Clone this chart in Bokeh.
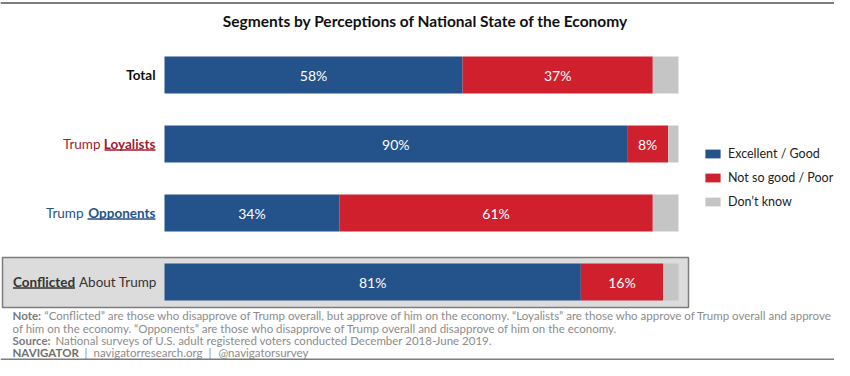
from bokeh.plotting import figure
from bokeh.models import ColumnDataSource, Range1d, Legend, LegendItem
from bokeh.core.properties import value
from bokeh.embed import file_html
from bokeh.resources import INLINE

# ---------------- data ----------------
segments = ["Total", "Trump Loyalists", "Trump Opponents", "Conflicted About Trump"]
good = [58, 90, 34, 81]
poor = [37, 8, 61, 16]
dont_know = [5, 2, 5, 3]
series_names = ["Excellent / Good", "Not so good / Poor", "Don\u2019t know"]
title_text = "Segments by Perceptions of National State of the Economy"
note_text = ("\u201cConflicted\u201d are those who disapprove of Trump overall, but approve of him on the economy. "
             "\u201cLoyalists\u201d are those who approve of Trump overall and approve")
note_text2 = ("of him on the economy. \u201cOpponents\u201d are those who disapprove of Trump overall "
              "and disapprove of him on the economy.")
source_text = "National surveys of U.S. adult registered voters conducted December 2018-June 2019."
footer_parts = ["|", "navigatorresearch.org", "|", "@navigatorsurvey"]

# ---------------- styles ----------------
BLUE = "#24528a"
RED = "#d0202e"
GRAY = "#c6c5c5"
DARKRED = "#9e1b32"
FONT = "Lato"
NOTE_GRAY = "#8c8c8c"

W, H = 834, 360
PX_PER_PCT = 5.14
X0 = 164              # px of 0%
ROW_PX = 69
Y0 = 74.5             # px of first row centre

def fx(px):
    return (px - X0) / PX_PER_PCT

def fy(py):
    return (py - Y0) / ROW_PX

p = figure(width=W, height=H, output_backend="svg", toolbar_location=None,
           x_range=Range1d(fx(0), fx(W)),
           y_range=Range1d(fy(H), fy(0)),
           x_axis_type=None, y_axis_type=None, min_border=0,
           outline_line_color=None, background_fill_color="white")
p.xgrid.visible = False
p.ygrid.visible = False

rows = list(range(len(segments)))

# conflicted highlight box
p.quad(left=[fx(2)], right=[fx(688)], top=[rows[3] - 24.5 / ROW_PX],
       bottom=[rows[3] + 25.5 / ROW_PX],
       fill_color="#dcdcdc", line_color="#7c7c7c", line_width=1.5)

src = ColumnDataSource(dict(row=rows, good=good, poor=poor, dk=dont_know))
rs = p.hbar_stack(["good", "poor", "dk"], y="row", height=37 / ROW_PX, source=src,
                  color=[BLUE, RED, GRAY], line_color=None)

# percentage labels
lx, ly, lt = [], [], []
for i in rows:
    lx += [good[i] / 2, good[i] + poor[i] / 2]
    ly += [i, i]
    lt += [f"{good[i]}%", f"{poor[i]}%"]
p.text(x=lx, y=ly, text=lt, text_color="white", text_font=value(FONT),
       text_font_size="14px", text_align="center", text_baseline="middle")

# row labels
LAB_X = fx(155)
FS = "13.5px"
p.text(x=[LAB_X], y=[rows[0]], text=["Total"], text_font=value(FONT), text_font_size=FS,
       text_font_style="bold", text_color="#111111", text_align="right", text_baseline="middle")

def two_part(row, bold, normal, color, bold_w, bold_first):
    ul_y = row + 6 / ROW_PX
    if not bold_first:
        p.text(x=[LAB_X], y=[row], text=[bold], text_font=value(FONT), text_font_size=FS,
               text_font_style="bold", text_color=color, text_align="right", text_baseline="middle")
        p.text(x=[LAB_X - (bold_w + 4) / PX_PER_PCT], y=[row], text=[normal], text_font=value(FONT),
               text_font_size=FS, text_color=color, text_align="right", text_baseline="middle")
        p.segment(x0=[LAB_X - bold_w / PX_PER_PCT], x1=[LAB_X], y0=[ul_y], y1=[ul_y],
                  line_color=color, line_width=1.5)
    else:
        start = fx(12.5)
        p.text(x=[start], y=[row], text=[bold], text_font=value(FONT), text_font_size=FS,
               text_font_style="bold", text_color=color, text_align="left", text_baseline="middle")
        p.text(x=[start + (bold_w + 4) / PX_PER_PCT], y=[row], text=[normal], text_font=value(FONT),
               text_font_size=FS, text_color=color, text_align="left", text_baseline="middle")
        p.segment(x0=[start], x1=[start + bold_w / PX_PER_PCT], y0=[ul_y], y1=[ul_y],
                  line_color=color, line_width=1.5)

two_part(rows[1], "Loyalists", "Trump", DARKRED, 51, False)
two_part(rows[2], "Opponents", "Trump", BLUE, 68, False)
two_part(rows[3], "Conflicted", "About Trump", "#333333", 62, True)

# title
p.text(x=[fx(425)], y=[fy(20)], text=[title_text], text_font=value(FONT), text_font_size="15.5px",
       text_font_style="bold", text_color="#111111", text_align="center", text_baseline="middle")

# notes
NOTE_FS = "11.5px"
def ntext(xpx, ypx, txt, bold=False, color=NOTE_GRAY):
    p.text(x=[fx(xpx)], y=[fy(ypx)], text=[txt], text_font=value(FONT), text_font_size=NOTE_FS,
           text_font_style="bold" if bold else "normal", text_color=color,
           text_align="left", text_baseline="middle")

ntext(12, 315, "Note:", bold=True, color="#7a7a7a")
ntext(44, 315, note_text)
ntext(12, 327.5, note_text2)
ntext(12, 339.5, "Source:", bold=True, color="#7a7a7a")
ntext(55, 339.5, source_text)
ntext(12, 351.5, "NAVIGATOR", bold=True, color="#6f6f6f")
for xpx, t in zip([84, 93, 208, 218], footer_parts):
    ntext(xpx, 351.5, t)

# frame lines
p.segment(x0=[fx(0)], x1=[fx(W)], y0=[fy(2.5)], y1=[fy(2.5)], line_color="#7c7c7c", line_width=2)
p.segment(x0=[fx(0)], x1=[fx(W)], y0=[fy(359)], y1=[fy(359)], line_color="#7c7c7c", line_width=2)

# legend
legend = Legend(items=[LegendItem(label=n, renderers=[r]) for n, r in zip(series_names, rs)],
                location=(703, 151), orientation="vertical",
                glyph_width=19, glyph_height=11, label_height=11, spacing=9,
                label_text_font=FONT, label_text_font_size="12.5px", label_text_color="#222222",
                label_standoff=6, padding=0, margin=0,
                border_line_alpha=0, background_fill_alpha=0)
p.add_layout(legend)

open("out.html", "w").write(file_html(p, INLINE))
